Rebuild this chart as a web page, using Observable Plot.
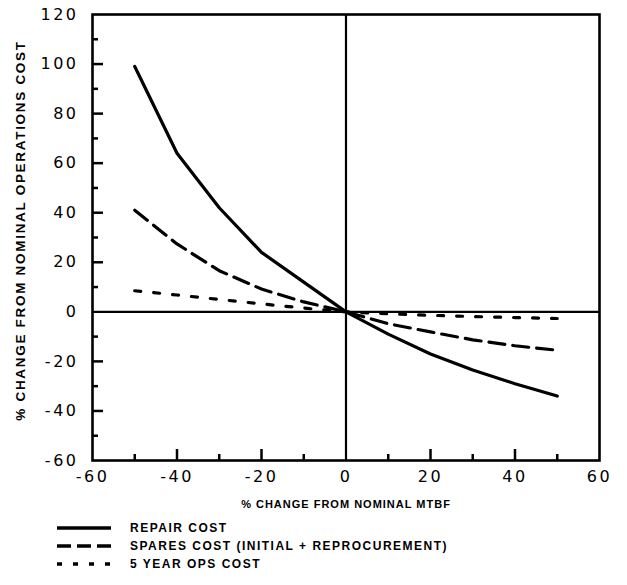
<!DOCTYPE html>
<html>
<head>
<meta charset="utf-8">
<script src="https://cdn.jsdelivr.net/npm/d3@7"></script>
<script src="https://cdn.jsdelivr.net/npm/@observablehq/plot@0.6"></script>
<style>
  body { margin: 0; background: #fff; }
  #wrap { position: relative; width: 627px; height: 585px; background: #fff; overflow: hidden; }
  #wrap svg.plot { position: absolute; left: 0; top: 0; }
  .leg { position: absolute; left: 0; height: 16px; display: flex; align-items: center;
         font-family: "Liberation Sans", Arial, sans-serif; font-weight: bold; font-size: 12px;
         letter-spacing: 1.5px; color: #000; white-space: nowrap; }
  .leg svg { margin-right: 19px; }
</style>
</head>
<body>
<div id="wrap"></div>
<script>
// ---- data ----
const mtbfChange = [-50, -40, -30, -20, -10, 0, 10, 20, 30, 40, 50];
const repairCost = [99, 64, 42, 24, 12, 0, -9, -17, -23.5, -29, -34];
const sparesCost = [41, 27.4, 16.6, 9.2, 4, 0, -4.8, -8.1, -11.3, -13.7, -15.5];
const opsCost    = [8.5, 6.8, 5, 3.2, 1.5, 0, -0.8, -1.4, -1.9, -2.3, -2.7];

const seriesNames = ["REPAIR COST", "SPARES COST (INITIAL + REPROCUREMENT)", "5 YEAR OPS COST"];
const xTickLabels = [-60, -40, -20, 0, 20, 40, 60];
const yTickLabels = [-60, -40, -20, 0, 20, 40, 60, 80, 100, 120];
const xMajorTicks = [-40, -20, 20, 40];
const xMinorTicks = [-50, -30, -10, 10, 30, 50];
const yMajorTicks = [-40, -20, 20, 40, 60, 80, 100];
const yMinorTicks = [-50, -30, -10, 10, 30, 50, 70, 90, 110];
const xTitle = "% CHANGE FROM NOMINAL MTBF";
const yTitle = "% CHANGE FROM NOMINAL OPERATIONS COST";

const dashes = ["none", "16,8", "6,13"];
const seriesValues = [repairCost, sparesCost, opsCost];
const rows = seriesValues.flatMap((vals, s) =>
  mtbfChange.map((x, i) => ({series: seriesNames[s], x, y: vals[i]})));

const W = 627, H = 515, ML = 92, MR = 28, MT = 14, MB = 55;
const frameW = W - ML - MR, frameH = H - MT - MB;
const majorLen = 11, minorLen = 6;

const chart = Plot.plot({
  width: W,
  height: H,
  marginLeft: ML,
  marginRight: MR,
  marginTop: MT,
  marginBottom: MB,
  x: {domain: [-60, 60]},
  y: {domain: [-60, 120]},
  style: {background: "white", color: "black", fontFamily: "DejaVu Sans, sans-serif", fontSize: "16px", overflow: "visible"},
  marks: [
    Plot.axisY({ticks: yTickLabels, tickSize: 0, tickPadding: 14, tickFormat: d => String(d), label: null, fontSize: 16}),
    Plot.axisX({ticks: xTickLabels, tickSize: 0, tickPadding: 10, tickFormat: d => String(d), label: null, fontSize: 16}),
    Plot.tickY(yMajorTicks, {y: d => d, insetRight: frameW - majorLen, strokeWidth: 2.5}),
    Plot.tickY(yMinorTicks, {y: d => d, insetRight: frameW - minorLen, strokeWidth: 2.5}),
    Plot.tickX(xMajorTicks, {x: d => d, insetTop: frameH - majorLen, strokeWidth: 2.5}),
    Plot.tickX(xMinorTicks, {x: d => d, insetTop: frameH - minorLen, strokeWidth: 2.5}),
    Plot.ruleX([0], {strokeWidth: 2.2}),
    Plot.ruleY([0], {strokeWidth: 2.2}),
    Plot.frame({strokeWidth: 2.6}),
    ...seriesNames.map((name, s) =>
      Plot.line(rows.filter(r => r.series === name), {
        x: "x", y: "y", stroke: "black", strokeWidth: 3.2,
        strokeDasharray: dashes[s], curve: "linear"
      })),
    Plot.text([xTitle], {frameAnchor: "bottom", dy: 47, fontWeight: "bold", fontSize: 11,
      fontFamily: "Liberation Sans, Arial, sans-serif", text: d => d}),
    Plot.text([yTitle], {frameAnchor: "left", textAnchor: "middle", rotate: -90, dx: -72, dy: -7,
      fontWeight: "bold", fontSize: 13.5, fontFamily: "Liberation Sans, Arial, sans-serif", text: d => d})
  ]
});
chart.classList.add("plot");
const wrap = document.getElementById("wrap");
wrap.appendChild(chart);
d3.select(chart).selectAll("[aria-label='y-axis tick label'] text, [aria-label='x-axis tick label'] text").style("letter-spacing", "2.5px");
const titles = d3.select(chart).selectAll("[aria-label='text'] text");
titles.filter((d, i) => i === 0).style("letter-spacing", "1px");
titles.filter((d, i) => i === 1).style("letter-spacing", "1.7px");

// ---- legend ----
const legendTops = [520, 538, 556];
seriesNames.forEach((name, s) => {
  const row = document.createElement("div");
  row.className = "leg";
  row.style.top = legendTops[s] + "px";
  row.style.left = "57px";
  const ns = "http://www.w3.org/2000/svg";
  const sv = document.createElementNS(ns, "svg");
  sv.setAttribute("width", 54); sv.setAttribute("height", 8);
  const ln = document.createElementNS(ns, "line");
  ln.setAttribute("x1", 0); ln.setAttribute("x2", 54);
  ln.setAttribute("y1", 4); ln.setAttribute("y2", 4);
  ln.setAttribute("stroke", "black"); ln.setAttribute("stroke-width", 3.5);
  if (dashes[s] !== "none") ln.setAttribute("stroke-dasharray", s === 1 ? "14,6" : "5,11");
  sv.appendChild(ln);
  row.appendChild(sv);
  const t = document.createElement("span");
  t.textContent = name;
  row.appendChild(t);
  wrap.appendChild(row);
});
</script>
</body>
</html>
